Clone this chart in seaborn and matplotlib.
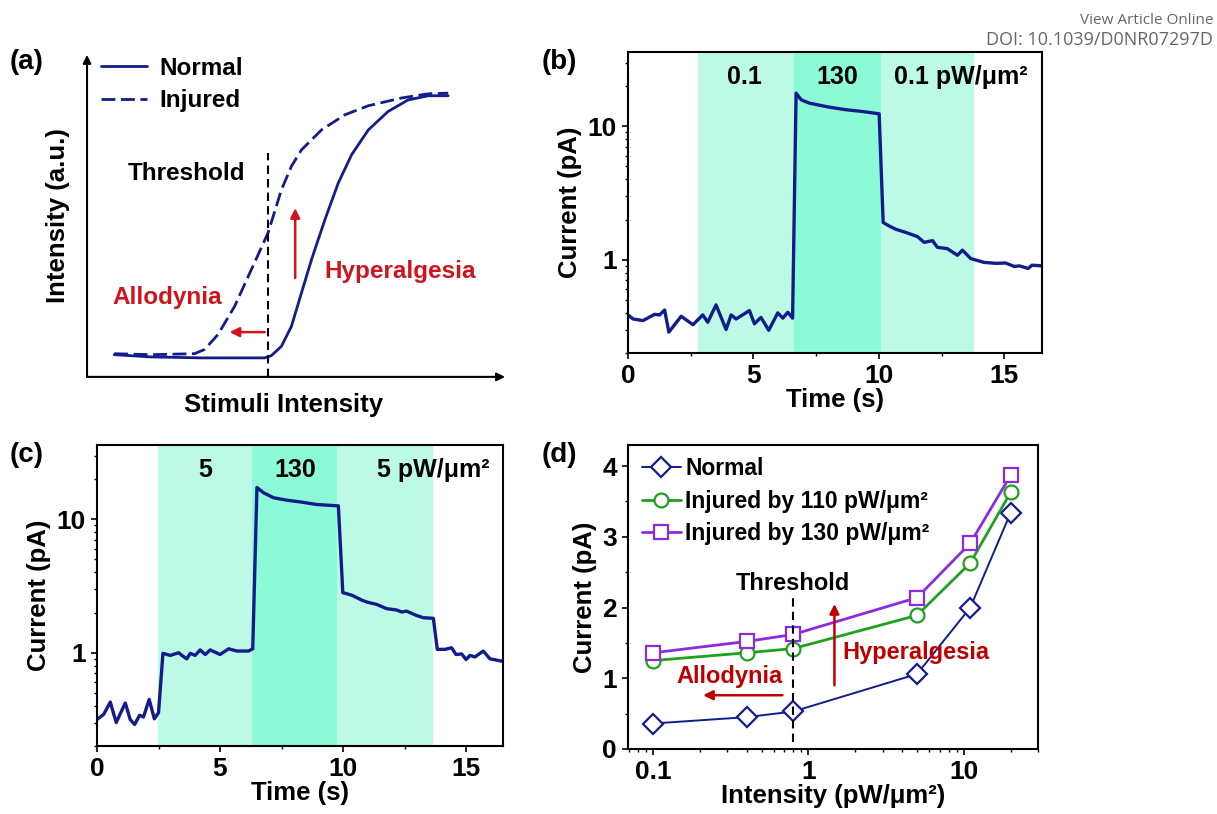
# Four-panel figure: pain-like response curves (a), photocurrent traces (b, c), intensity sweep (d)
import numpy as np
import pandas as pd
import seaborn as sns
import matplotlib
matplotlib.use('Agg')
import matplotlib.pyplot as plt
from matplotlib.ticker import MultipleLocator, FuncFormatter, NullFormatter, LogLocator

# ---------------- data ----------------
# (a) schematic curves, arbitrary units on a 0-10 grid
a_normal_x = [0.65, 1.53, 2.73, 4.25, 4.41, 4.65, 4.89, 5.13, 5.37, 5.69, 6.01, 6.33, 6.73, 7.20, 7.68, 8.16, 8.64]
a_normal_y = [0.69, 0.62, 0.59, 0.59, 0.66, 0.95, 1.57, 2.61, 3.64, 4.88, 6.02, 6.90, 7.67, 8.24, 8.60, 8.73, 8.73]
a_injured_x = [0.65, 1.53, 2.57, 2.81, 3.13, 3.53, 3.93, 4.33, 4.65, 4.89, 5.13, 5.61, 6.17, 6.73, 7.52, 8.16, 8.64]
a_injured_y = [0.72, 0.69, 0.72, 0.85, 1.31, 2.19, 3.33, 4.47, 5.81, 6.54, 7.05, 7.67, 8.14, 8.42, 8.66, 8.79, 8.81]
a_threshold = 4.33

# (b) current trace, 0.1 -> 130 -> 0.1 pW/um2
b_time = [0, 0.2, 0.6, 1.06, 1.26, 1.46, 1.63, 2.12, 2.59, 2.98, 3.18, 3.51, 3.91, 4.11, 4.31,
          4.84, 5.04, 5.3, 5.61, 5.97, 6.17, 6.37, 6.56, 6.70, 6.9, 7.23, 8.02, 8.69, 9.35,
          10.01, 10.17, 10.41, 10.68, 11.08, 11.54, 11.8, 12.14, 12.33, 12.73, 13.13, 13.33,
          13.66, 14.19, 14.66, 15.05, 15.4, 15.6, 15.95, 16.1, 16.5]
b_current = [0.386, 0.36, 0.35, 0.39, 0.386, 0.42, 0.287, 0.377, 0.326, 0.386, 0.34, 0.459, 0.30,
             0.386, 0.36, 0.416, 0.331, 0.37, 0.296, 0.40, 0.365, 0.404, 0.365, 17.7, 15.8, 14.9,
             13.9, 13.3, 12.9, 12.4, 1.90, 1.79, 1.69, 1.60, 1.49, 1.35, 1.39, 1.24, 1.21, 1.08,
             1.18, 1.02, 0.955, 0.94, 0.945, 0.89, 0.90, 0.86, 0.91, 0.90]
b_bands = [2.8, 6.6, 10.1, 13.8]
b_labels = ['0.1', '130', '0.1 pW/μm²']
b_label_x = [4.66, 8.33, 13.25]

# (c) current trace, 5 -> 130 -> 5 pW/um2
c_time = [0, 0.27, 0.54, 0.78, 1.15, 1.35, 1.53, 1.73, 1.89, 2.12, 2.33, 2.50, 2.68, 2.98, 3.32,
          3.45, 3.65, 3.79, 3.99, 4.19, 4.40, 4.60, 5.0, 5.35, 5.68, 6.16, 6.33, 6.50, 6.77,
          7.17, 7.71, 8.25, 8.93, 9.81, 9.99, 10.35, 10.76, 10.96, 11.37, 11.77, 12.18, 12.38,
          12.58, 12.99, 13.26, 13.67, 13.83, 14.14, 14.41, 14.59, 14.82, 15.0, 15.16, 15.36,
          15.70, 15.97, 16.44]
c_current = [0.316, 0.345, 0.427, 0.30, 0.42, 0.316, 0.29, 0.34, 0.33, 0.447, 0.32, 0.355, 0.99,
             0.955, 1.0, 0.955, 0.90, 0.99, 0.955, 1.05, 0.97, 1.05, 0.97, 1.07, 1.03, 1.03, 1.07,
             17.3, 15.8, 14.5, 13.9, 13.5, 12.9, 12.6, 2.82, 2.7, 2.48, 2.4, 2.3, 2.14, 2.09, 2.02,
             2.05, 1.9, 1.83, 1.81, 1.06, 1.06, 1.09, 0.97, 0.98, 0.89, 0.955, 0.93, 1.03, 0.90, 0.866]
c_bands = [2.48, 6.29, 9.74, 13.64]
c_labels = ['5', '130', '5 pW/μm²']
c_label_x = [4.39, 8.05, 13.66]

# (d) current vs light intensity
d_intensity = [0.1, 0.4, 0.8, 5, 11, 20]
d_normal = [0.36, 0.45, 0.53, 1.06, 2.0, 3.34]
d_inj110 = [1.25, 1.36, 1.42, 1.89, 2.63, 3.63]
d_inj130 = [1.36, 1.52, 1.62, 2.14, 2.91, 3.87]
d_threshold = 0.8

# ---------------- style ----------------
sns.set_theme(style='ticks')
plt.rcParams['font.family'] = ['Liberation Sans', 'DejaVu Sans']
plt.rcParams['font.weight'] = 'bold'
plt.rcParams['axes.labelweight'] = 'bold'
plt.rcParams['axes.linewidth'] = 1.5
plt.rcParams['axes.edgecolor'] = 'black'
plt.rcParams['axes.labelcolor'] = 'black'
plt.rcParams['text.color'] = 'black'
plt.rcParams['xtick.color'] = 'black'
plt.rcParams['ytick.color'] = 'black'

navy = '#121c8a'
red_a = '#d0141e'
red_d = '#c00000'
light_band = '#bdfae6'
dark_band = '#8cfad7'
fs_text = 17.5
fs_label = 18.5
fs_tick = 19

fig = plt.figure(figsize=(12.17, 8.14), dpi=100)
ax1 = fig.add_axes([0.0715, 0.537, 0.3435, 0.3956])
ax2 = fig.add_axes([0.516, 0.5663, 0.3402, 0.3698])
ax3 = fig.add_axes([0.0797, 0.0835, 0.3336, 0.3698])
ax4 = fig.add_axes([0.516, 0.0799, 0.3369, 0.3735])

# ---------------- (a) ----------------
sns.lineplot(x=a_normal_x, y=a_normal_y, ax=ax1, color=navy, lw=2, label='Normal')
sns.lineplot(x=a_injured_x, y=a_injured_y, ax=ax1, color=navy, lw=2, label='Injured')
ax1.lines[1].set_dashes([5, 2])
ax1.set_xlim(0, 10)
ax1.set_ylim(0, 10)
for s in ax1.spines.values():
    s.set_visible(False)
ax1.set_xticks([])
ax1.set_yticks([])
ax1.annotate('', xy=(1.0, 0), xytext=(0, 0), xycoords='axes fraction',
             arrowprops=dict(arrowstyle='-|>', lw=1.5, color='black', mutation_scale=12, shrinkA=0, shrinkB=0))
ax1.annotate('', xy=(0, 1.0), xytext=(0, 0), xycoords='axes fraction',
             arrowprops=dict(arrowstyle='-|>', lw=1.5, color='black', mutation_scale=12, shrinkA=0, shrinkB=0))
ax1.plot([a_threshold, a_threshold], [0, 6.95], color='black', lw=1.5, dashes=[4, 2.5])
ax1.text(2.37, 6.31, 'Threshold', fontsize=fs_text, ha='center', va='center')
ax1.annotate('', xy=(4.98, 5.24), xytext=(4.98, 3.07),
             arrowprops=dict(arrowstyle='-|>', lw=1.8, color=red_a, mutation_scale=14, shrinkA=0, shrinkB=0))
ax1.text(5.67, 3.28, 'Hyperalgesia', fontsize=fs_text, color=red_a, ha='left', va='center')
ax1.annotate('', xy=(3.41, 1.39), xytext=(4.25, 1.39),
             arrowprops=dict(arrowstyle='-|>', lw=1.8, color=red_a, mutation_scale=14, shrinkA=0, shrinkB=0))
ax1.text(1.93, 2.45, 'Allodynia', fontsize=fs_text, color=red_a, ha='center', va='center')
ax1.set_ylabel('Intensity (a.u.)', fontsize=fs_label, labelpad=12)
ax1.set_xlabel('Stimuli Intensity', fontsize=fs_label)
ax1.xaxis.set_label_coords(0.469, -0.05)
ax1.legend(loc='upper left', bbox_to_anchor=(0.01, 1.025), frameon=False, fontsize=fs_text,
           handlelength=1.9, handletextpad=0.5, labelspacing=0.4, borderaxespad=0)


# ---------------- (b) and (c) ----------------
def trace_panel(ax, t, cur, bands, labels, label_x):
    ax.axvspan(bands[0], bands[1], color=light_band, lw=0, zorder=0)
    ax.axvspan(bands[1], bands[2], color=dark_band, lw=0, zorder=0)
    ax.axvspan(bands[2], bands[3], color=light_band, lw=0, zorder=0)
    df = pd.DataFrame({'t': t, 'I': cur})
    sns.lineplot(data=df, x='t', y='I', ax=ax, color=navy, lw=2.4, sort=False)
    ax.set_yscale('log')
    ax.set_xlim(0, 16.5)
    ax.set_ylim(0.2, 36)
    ax.xaxis.set_major_locator(MultipleLocator(5))
    ax.xaxis.set_minor_locator(MultipleLocator(2.5))
    ax.yaxis.set_major_locator(LogLocator(base=10))
    ax.yaxis.set_major_formatter(FuncFormatter(lambda v, p: '{:g}'.format(v)))
    ax.yaxis.set_minor_formatter(NullFormatter())
    ax.tick_params(which='major', length=4.5, width=1.2, labelsize=fs_tick, direction='out')
    ax.tick_params(which='minor', length=2.5, width=1.0, direction='out')
    ax.set_xlabel('Time (s)', fontsize=fs_label, labelpad=0)
    ax.set_ylabel('Current (pA)', fontsize=fs_label, labelpad=4)
    for lab, x in zip(labels, label_x):
        ax.text(x, 23.5, lab, fontsize=18, ha='center', va='center')


trace_panel(ax2, b_time, b_current, b_bands, b_labels, b_label_x)
trace_panel(ax3, c_time, c_current, c_bands, c_labels, c_label_x)

# ---------------- (d) ----------------
d_df = pd.DataFrame({'x': d_intensity, 'Normal': d_normal,
                     'Injured by 110 pW/μm²': d_inj110, 'Injured by 130 pW/μm²': d_inj130})
series = [('Normal', navy, 'D', 1.4), ('Injured by 110 pW/μm²', '#1fa01f', 'o', 2.0),
          ('Injured by 130 pW/μm²', '#8a2be2', 's', 2.0)]
for name, col, mk, lw in series:
    sns.lineplot(data=d_df, x='x', y=name, ax=ax4, color=col, lw=lw, marker=mk, markersize=10,
                 markerfacecolor='white', markeredgecolor=col, markeredgewidth=1.6, label=name)
ax4.set_xscale('log')
ax4.set_xlim(0.069, 30)
ax4.set_ylim(0, 4.3)
ax4.yaxis.set_major_locator(MultipleLocator(1))
ax4.yaxis.set_minor_locator(MultipleLocator(0.5))
ax4.xaxis.set_major_formatter(FuncFormatter(lambda v, p: '{:g}'.format(v)))
ax4.xaxis.set_minor_formatter(NullFormatter())
ax4.tick_params(which='major', length=4.5, width=1.2, labelsize=fs_tick, direction='out')
ax4.tick_params(which='minor', length=2.5, width=1.0, direction='out')
ax4.plot([d_threshold, d_threshold], [0.1, 2.13], color='black', lw=1.5, dashes=[4, 2.5])
ax4.text(0.8, 2.34, 'Threshold', fontsize=17, ha='center', va='center')
ax4.annotate('', xy=(1.47, 2.05), xytext=(1.47, 0.9),
             arrowprops=dict(arrowstyle='-|>', lw=1.8, color=red_d, mutation_scale=14, shrinkA=0, shrinkB=0))
ax4.text(1.65, 1.37, 'Hyperalgesia', fontsize=17, color=red_d, ha='left', va='center')
ax4.annotate('', xy=(0.21, 0.76), xytext=(0.68, 0.76),
             arrowprops=dict(arrowstyle='-|>', lw=1.8, color=red_d, mutation_scale=14, shrinkA=0, shrinkB=0))
ax4.text(0.31, 1.02, 'Allodynia', fontsize=17, color=red_d, ha='center', va='center')
ax4.set_xlabel('Intensity (pW/μm²)', fontsize=fs_label, labelpad=0)
ax4.set_ylabel('Current (pA)', fontsize=fs_label, labelpad=4)
ax4.legend(loc='upper left', bbox_to_anchor=(0.0, 1.005), frameon=False, fontsize=16.5,
           handlelength=1.7, handletextpad=0.2, labelspacing=0.42, borderaxespad=0.2)

# panel letters
for lab, x, y in [('(a)', 0.008, 0.924), ('(b)', 0.445, 0.924), ('(c)', 0.008, 0.441), ('(d)', 0.445, 0.441)]:
    fig.text(x, y, lab, fontsize=20, ha='left', va='center')

# journal header
fig.text(0.997, 0.975, 'View Article Online', fontsize=11, color='#666666', ha='right', va='center',
         family=['Open Sans', 'DejaVu Sans'], fontweight='normal')
fig.text(0.997, 0.951, 'DOI: 10.1039/D0NR07297D', fontsize=13, color='#666666', ha='right', va='center',
         family=['Open Sans', 'DejaVu Sans'], fontweight='normal')

fig.savefig('out.png', dpi=100)
